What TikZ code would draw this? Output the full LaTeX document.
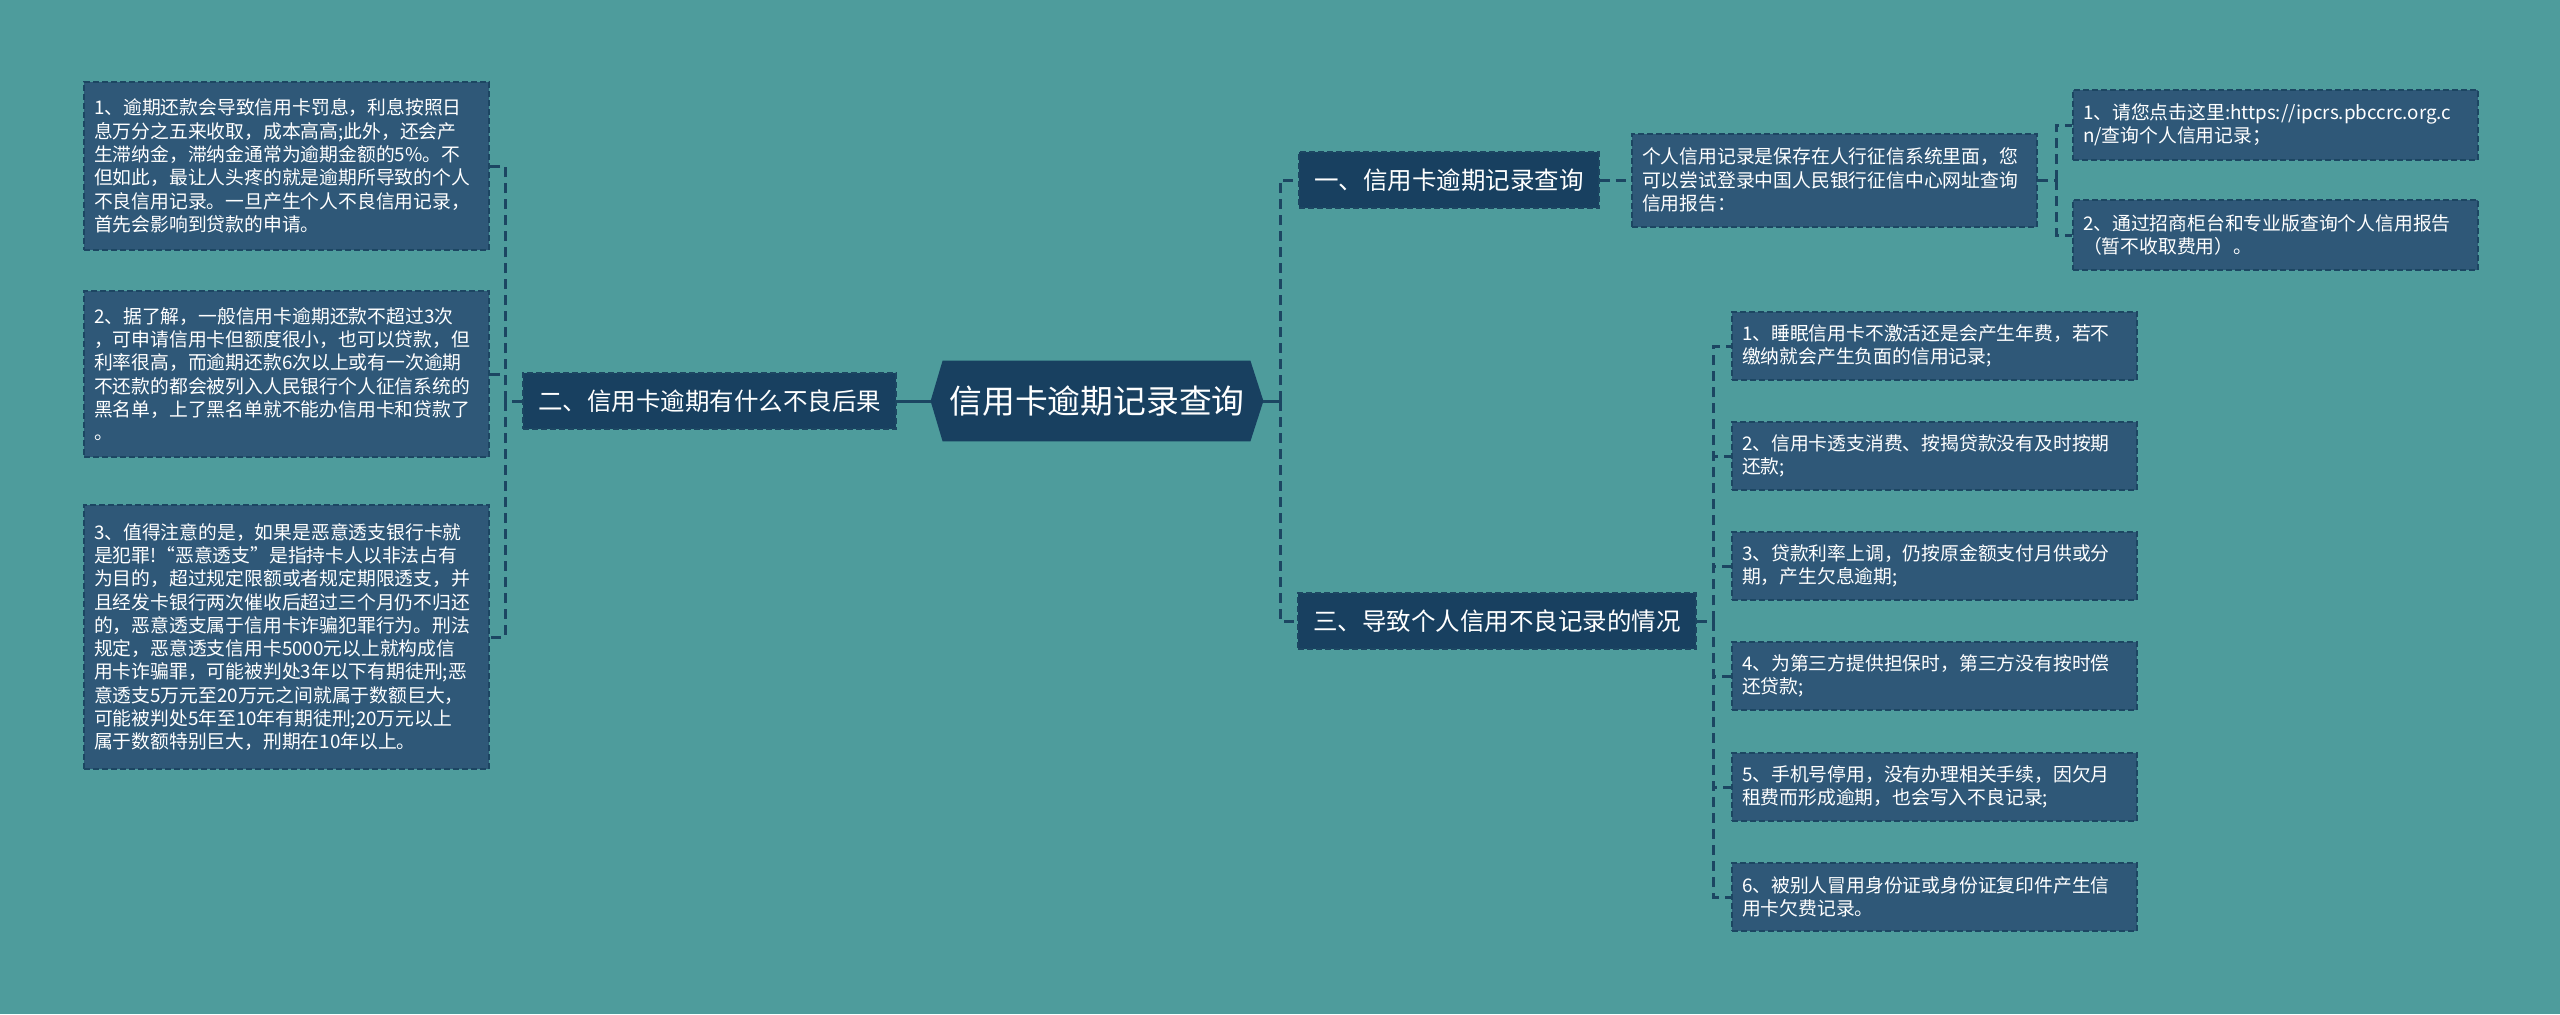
\documentclass[tikz,border=0pt]{standalone}
\usepackage{fontspec}
\newfontfamily\cjk{Noto Sans CJK SC}
\usetikzlibrary{backgrounds}

\definecolor{bgteal}{RGB}{78,156,156}
\definecolor{leafblue}{RGB}{47,88,120}
\definecolor{deepblue}{RGB}{24,64,96}
\definecolor{linkblue}{RGB}{28,70,98}

\tikzset{
  leaf/.style={rectangle, anchor=west, fill=leafblue, draw=linkblue, line width=1pt,
    dash pattern=on 3pt off 1.5pt, text=white, align=left, text width=192.5pt,
    inner xsep=5pt, inner ysep=3pt, font=\cjk\fontsize{9.4}{11.65}\selectfont},
  branch/.style={rectangle, anchor=west, fill=deepblue, draw=linkblue, line width=1pt,
    dash pattern=on 3pt off 1.5pt, text=white, inner xsep=7.5pt, minimum height=28pt,
    font=\cjk\fontsize{12.25}{14}\selectfont},
  rootnode/.style={rectangle, text=white, inner sep=0pt, minimum width=166pt,
    minimum height=40pt, font=\cjk\fontsize{16.4}{18}\selectfont},
  solidlink/.style={draw=linkblue, line width=1.5pt},
  dashlink/.style={draw=linkblue, line width=1.5pt, dash pattern=on 5pt off 3pt}
}

\begin{document}
\begin{tikzpicture}[x=0.5pt, y=-0.5pt]
    \useasboundingbox (0,0) rectangle (2560,1014);
    \begin{scope}[on background layer]
        \fill[bgteal] (0,0) rectangle (2560,1014);
    \end{scope}

    % centre
    \node[rootnode] (root) at (1097,401) {信用卡逾期记录查询};
    \begin{scope}[on background layer]
        \fill[deepblue] (root.west) -- ([xshift=6pt]root.north west) -- ([xshift=-6.5pt]root.north east)
            -- (root.east) -- ([xshift=-6.5pt]root.south east) -- ([xshift=6pt]root.south west) -- cycle;
    \end{scope}

    \node[branch] (one) at (1298,180) {一、信用卡逾期记录查询};
    \node[branch] (two) at (522,401) {二、信用卡逾期有什么不良后果};
    \node[branch] (three) at (1297,621) {三、导致个人信用不良记录的情况};

    % left side
    \node[leaf, minimum height=84pt] (bad1) at (83,166) {1、逾期还款会导致信用卡罚息，利息按照日\\息万分之五来收取，成本高高;此外，还会产\\生滞纳金，滞纳金通常为逾期金额的5\%。不\\但如此，最让人头疼的就是逾期所导致的个人\\不良信用记录。一旦产生个人不良信用记录，\\首先会影响到贷款的申请。};
    \node[leaf, minimum height=83pt] (bad2) at (83,374) {2、据了解，一般信用卡逾期还款不超过3次\\，可申请信用卡但额度很小，也可以贷款，但\\利率很高，而逾期还款6次以上或有一次逾期\\不还款的都会被列入人民银行个人征信系统的\\黑名单，上了黑名单就不能办信用卡和贷款了\\。};
    \node[leaf, minimum height=132pt] (bad3) at (83,637) {3、值得注意的是，如果是恶意透支银行卡就\\是犯罪!“恶意透支”是指持卡人以非法占有\\为目的，超过规定限额或者规定期限透支，并\\且经发卡银行两次催收后超过三个月仍不归还\\的，恶意透支属于信用卡诈骗犯罪行为。刑法\\规定，恶意透支信用卡5000元以上就构成信\\用卡诈骗罪，可能被判处3年以下有期徒刑;恶\\意透支5万元至20万元之间就属于数额巨大，\\可能被判处5年至10年有期徒刑;20万元以上\\属于数额特别巨大，刑期在10年以上。};

    % right side
    \node[leaf, minimum height=46.5pt] (query) at (1631,180) {个人信用记录是保存在人行征信系统里面，您\\可以尝试登录中国人民银行征信中心网址查询\\信用报告：};
    \node[leaf, minimum height=35pt] (query1) at (2072,125) {1、请您点击这里:https://ipcrs.pbccrc.org.c\\n/查询个人信用记录；};
    \node[leaf, minimum height=35pt] (query2) at (2072,235) {2、通过招商柜台和专业版查询个人信用报告\\（暂不收取费用）。};

    \node[leaf, minimum height=34pt] (cause1) at (1731,346) {1、睡眠信用卡不激活还是会产生年费，若不\\缴纳就会产生负面的信用记录;};
    \node[leaf, minimum height=34pt] (cause2) at (1731,456) {2、信用卡透支消费、按揭贷款没有及时按期\\还款;};
    \node[leaf, minimum height=34pt] (cause3) at (1731,566) {3、贷款利率上调，仍按原金额支付月供或分\\期，产生欠息逾期;};
    \node[leaf, minimum height=34pt] (cause4) at (1731,676) {4、为第三方提供担保时，第三方没有按时偿\\还贷款;};
    \node[leaf, minimum height=34pt] (cause5) at (1731,787) {5、手机号停用，没有办理相关手续，因欠月\\租费而形成逾期，也会写入不良记录;};
    \node[leaf, minimum height=34pt] (cause6) at (1731,897) {6、被别人冒用身份证或身份证复印件产生信\\用卡欠费记录。};

    \coordinate (lj) at (505,401);
    \coordinate (rj) at (1280,401);
    \coordinate (qj) at (2056,180);
    \coordinate (cj) at (1713,621);

    \draw[solidlink] (two.east) -- (root.west);
    \draw[solidlink] (root.east) -- (rj);
    \draw[dashlink] (rj) |- (one.west);
    \draw[dashlink] (rj) |- (three.west);
    \draw[dashlink] (two.west) -- (lj);
    \foreach \i in {1,2,3}
        \draw[dashlink] (lj) |- (bad\i.east);
    \draw[dashlink] (one.east) -- (query.west);
    \draw[dashlink] (query.east) -- (qj);
    \draw[dashlink] (qj) |- (query1.west);
    \draw[dashlink] (qj) |- (query2.west);
    \draw[dashlink] (three.east) -- (cj);
    \foreach \i in {1,...,6}
        \draw[dashlink] (cj) |- (cause\i.west);
\end{tikzpicture}
\end{document}
